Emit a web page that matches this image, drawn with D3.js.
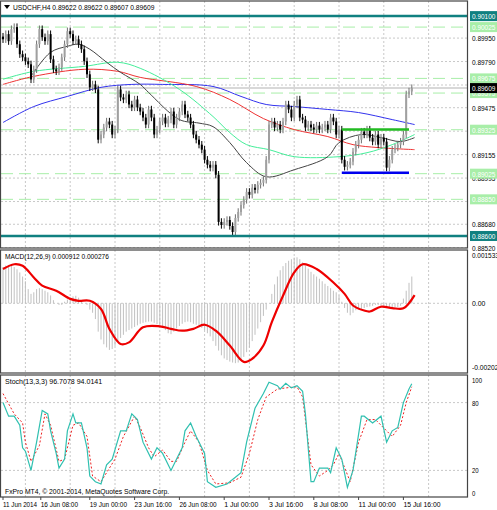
<!DOCTYPE html>
<html>
<head>
<meta charset="utf-8">
<script src="https://cdn.jsdelivr.net/npm/d3@7"></script>
<style>
  body { margin: 0; background: #fff; }
  text { font-family: "Liberation Sans", sans-serif; font-size: 8px; }
</style>
</head>
<body>
<svg id="chart" width="497" height="510"></svg>
<script>
// H4 closes, one per bar
const closes = [
  0.89942, 0.89977, 0.89929, 0.90011, 0.90025, 0.89908, 0.89840, 0.89819, 0.89792, 0.89771,
  0.89668, 0.89737, 0.89908, 0.90011, 0.89956, 0.89929, 0.89977, 0.89805, 0.89737, 0.89723,
  0.89751, 0.89819, 0.89908, 0.89997, 0.89977, 0.89929, 0.89942, 0.89908, 0.89874, 0.89792,
  0.89703, 0.89614, 0.89634, 0.89600, 0.89257, 0.89292, 0.89340, 0.89381, 0.89360, 0.89292,
  0.89326, 0.89600, 0.89545, 0.89531, 0.89566, 0.89497, 0.89477, 0.89531, 0.89477, 0.89449,
  0.89408, 0.89360, 0.89463, 0.89408, 0.89292, 0.89326, 0.89381, 0.89408, 0.89367, 0.89394,
  0.89449, 0.89360, 0.89408, 0.89449, 0.89497, 0.89429, 0.89408, 0.89360, 0.89292, 0.89257,
  0.89223, 0.89189, 0.89120, 0.89086, 0.89066, 0.89086, 0.89018, 0.88696, 0.88675, 0.88696,
  0.88709, 0.88668, 0.88627, 0.88723, 0.88764, 0.88812, 0.88846, 0.88901, 0.88881, 0.88929,
  0.88915, 0.88949, 0.88963, 0.88983, 0.89120, 0.89360, 0.89381, 0.89340, 0.89360, 0.89326,
  0.89381, 0.89497, 0.89463, 0.89408, 0.89497, 0.89531, 0.89408, 0.89394, 0.89340, 0.89360,
  0.89340, 0.89326, 0.89353, 0.89326, 0.89340, 0.89360, 0.89326, 0.89408, 0.89381, 0.89292,
  0.89326, 0.89120, 0.89072, 0.89086, 0.89107, 0.89175, 0.89223, 0.89257, 0.89312, 0.89292,
  0.89326, 0.89271, 0.89244, 0.89292, 0.89223, 0.89271, 0.89244, 0.89066, 0.89120, 0.89189,
  0.89203, 0.89223, 0.89244, 0.89292, 0.89566, 0.89586, 0.89609
];
const firstOpen = 0.89960;
const wick = 0.00025;

// moving averages, read at some bars: [bar, price]
const maBlack = [[10,0.89689],[17,0.89853],[23,0.89894],[27,0.89908],[31,0.89874],[37,0.89785],[42,0.89716],[49,0.89634],[52,0.89579],[63,0.89394],[70,0.89370],[75,0.89346],[81,0.89237],[87,0.89100],[94,0.89004],[104,0.89052],[116,0.89141],[120,0.89237],[128,0.89292],[135,0.89271],[142,0.89244],[147,0.89271]];
const maGreen = [[0,0.89669],[11,0.89723],[29,0.89757],[41,0.89785],[49,0.89744],[63,0.89600],[75,0.89415],[81,0.89305],[87,0.89223],[95,0.89189],[104,0.89141],[120,0.89141],[130,0.89168],[139,0.89223],[147,0.89292]];
const maRed = [[0,0.89634],[11,0.89689],[29,0.89737],[41,0.89723],[49,0.89682],[69,0.89620],[81,0.89531],[93,0.89401],[104,0.89326],[116,0.89278],[125,0.89223],[134,0.89203],[147,0.89189]];
const maBlue = [[0,0.89374],[11,0.89483],[23,0.89552],[35,0.89614],[46,0.89634],[57,0.89634],[75,0.89620],[85,0.89552],[94,0.89497],[104,0.89483],[116,0.89463],[127,0.89442],[139,0.89394],[147,0.89360]];

const levelsTeal = [0.90100, 0.88600];
const levelsGreen = [0.90025, 0.89675, 0.89575, 0.89325, 0.89025, 0.88850];
const currentPrice = 0.89609;
const boxTop = { from: 121, to: 145, price: 0.89326 };
const boxBottom = { from: 121, to: 145, price: 0.89031 };
const priceTicks = ["0.89950", "0.89790", "0.89630", "0.89475", "0.89315", "0.89155", "0.88995", "0.88835", "0.88680", "0.88520"];
const priceTickLabels = ["0.89950", "0.89790", "0.89475", "0.89155", "0.88995", "0.88680", "0.88520"];

const macdHist = [
  0.00115, 0.00120, 0.00122, 0.00120, 0.00115, 0.00108, 0.00098, 0.00085, 0.00070, 0.00045,
  0.00030, 0.00035, 0.00045, 0.00048, 0.00045, 0.00040, 0.00035, 0.00025, 0.00010, 0.00000,
  -0.00005, -0.00005, 0.00005, 0.00012, 0.00018, 0.00022, 0.00024, 0.00018, 0.00010, 0.00000,
  -0.00005, -0.00020, -0.00030, -0.00050, -0.00090, -0.00115, -0.00130, -0.00140, -0.00148, -0.00145,
  -0.00135, -0.00120, -0.00110, -0.00100, -0.00090, -0.00085, -0.00080, -0.00075, -0.00070, -0.00065,
  -0.00062, -0.00060, -0.00058, -0.00058, -0.00062, -0.00066, -0.00072, -0.00078, -0.00085, -0.00095,
  -0.00098, -0.00090, -0.00080, -0.00072, -0.00065, -0.00060, -0.00058, -0.00060, -0.00065, -0.00068,
  -0.00072, -0.00078, -0.00085, -0.00095, -0.00105, -0.00120, -0.00135, -0.00150, -0.00165, -0.00175,
  -0.00180, -0.00185, -0.00188, -0.00190, -0.00188, -0.00182, -0.00170, -0.00155, -0.00140, -0.00120,
  -0.00100, -0.00080, -0.00060, -0.00040, -0.00020, 0.00000, 0.00030, 0.00060, 0.00085, 0.00105,
  0.00118, 0.00128, 0.00135, 0.00140, 0.00145, 0.00146, 0.00140, 0.00130, 0.00120, 0.00110,
  0.00100, 0.00092, 0.00085, 0.00078, 0.00070, 0.00062, 0.00055, 0.00048, 0.00040, 0.00035,
  0.00025, 0.00005, -0.00015, -0.00030, -0.00038, -0.00030, -0.00022, -0.00020, -0.00018, -0.00015,
  -0.00012, -0.00010, -0.00008, -0.00005, -0.00005, -0.00008, -0.00010, -0.00012, -0.00012, -0.00013,
  -0.00013, -0.00012, -0.00008, 0.00015, 0.00040, 0.00065, 0.00085
];
const macdSignal = [[0,0.00109],[4,0.00124],[7,0.00119],[11,0.00082],[14,0.00056],[19,0.00040],[24,0.00014],[27,0.00008],[31,0.00008],[35,-0.00018],[38,-0.00081],[42,-0.00129],[45,-0.00124],[50,-0.00076],[56,-0.00073],[60,-0.00081],[64,-0.00087],[68,-0.00081],[72,-0.00068],[76,-0.00087],[81,-0.00134],[86,-0.00186],[89,-0.00176],[93,-0.00134],[96,-0.00060],[100,0.00024],[104,0.00098],[107,0.00124],[112,0.00109],[118,0.00066],[122,0.00030],[125,-0.00007],[129,-0.00023],[131,-0.00026],[135,-0.00011],[139,-0.00015],[143,-0.00016],[147,0.00026]];
const macdTicks = [["0.001533", 0.001533], ["0.00", 0], ["-0.002027", -0.002027]];

const stochMain = [[0,80],[2,68],[4,68],[6,60],[7,40],[8,37],[10,20],[12,45],[14,73],[16,70],[17,55],[19,35],[20,22],[22,30],[23,55],[25,70],[26,62],[28,62],[30,40],[31,15],[33,10],[35,8],[37,25],[39,30],[42,55],[44,55],[46,70],[48,65],[50,45],[53,30],[55,40],[57,35],[60,20],[62,30],[64,40],[65,55],[67,62],[69,50],[72,35],[73,10],[76,5],[80,8],[82,12],[85,18],[87,45],[90,75],[93,88],[95,98],[98,95],[99,92],[101,97],[103,93],[105,95],[107,90],[108,70],[110,10],[111,10],[113,22],[116,22],[117,18],[119,40],[121,30],[123,5],[125,20],[128,68],[129,68],[132,62],[135,68],[137,45],[139,55],[141,58],[143,80],[145,92],[146,96.7]];
const stochSignal = [[0,88],[4,70],[7,62],[8,45],[10,28],[13,42],[15,70],[17,60],[20,28],[22,30],[25,60],[27,62],[30,50],[32,15],[35,10],[37,18],[40,30],[43,50],[47,68],[49,58],[52,40],[54,32],[57,38],[60,28],[62,28],[65,45],[67,55],[70,45],[73,20],[76,8],[81,9],[85,14],[88,35],[91,65],[94,85],[98,92],[101,93],[105,94],[107,85],[110,25],[113,15],[116,20],[118,25],[120,35],[124,10],[127,45],[130,65],[133,65],[137,55],[139,50],[142,60],[144,80],[146,94]];
const stochTicks = [100, 80, 20, 0];

const dateLabels = ["11 Jun 2014", "16 Jun 08:00", "19 Jun 00:00", "23 Jun 16:00", "26 Jun 08:00", "1 Jul 00:00", "3 Jul 16:00", "8 Jul 08:00", "11 Jul 00:00", "15 Jul 16:00"];
const dateIdx = [0, 13.5, 31, 47, 63, 79, 95, 111, 127, 143];
const gridIdx = [8, 24, 40, 56, 72, 88, 104, 120, 136, 152];

const svg = d3.select("#chart");
const W = 467, axisX = 470;
const CW = 3.35; // squeezed char width, like the small Tahoma of MT4
const x = d3.scaleLinear().domain([0, 1]).range([3, 5.8]);

// text with squeezed width
function label(sel, cw) {
  sel.attr("textLength", function() { return this.textContent.length * (cw || CW); })
     .attr("lengthAdjust", "spacingAndGlyphs");
  return sel;
}

const panes = [
  { top: 1, bottom: 248 },
  { top: 250, bottom: 373 },
  { top: 375, bottom: 497 }
];
const yP = d3.scaleLinear().domain([0.88518, 0.90203]).range([248, 1]);
const yM = d3.scaleLinear().domain([-0.00218, 0.00166]).range([372, 251]);
const yS = d3.scaleLinear().domain([0, 100]).range([493, 380]);

panes.forEach((p, i) => {
  svg.append("clipPath").attr("id", "clip" + i)
    .append("rect").attr("x", 1).attr("y", p.top).attr("width", W - 1).attr("height", p.bottom - p.top);
});

// vertical grid
panes.forEach((p, i) => {
  svg.append("g").attr("clip-path", `url(#clip${i})`).selectAll("line").data(gridIdx).join("line")
    .attr("x1", d => x(d)).attr("x2", d => x(d)).attr("y1", p.top).attr("y2", p.bottom)
    .attr("stroke", "#c8c8c8").attr("stroke-dasharray", "2,2");
});

// ----- main pane
const gP = svg.append("g").attr("clip-path", "url(#clip0)");
gP.selectAll("line.hg").data(priceTicks).join("line").attr("class", "hg")
  .attr("x1", 1).attr("x2", W).attr("y1", d => yP(+d)).attr("y2", d => yP(+d))
  .attr("stroke", "#c8c8c8").attr("stroke-dasharray", "2,2");
gP.selectAll("line.gl").data(levelsGreen).join("line").attr("class", "gl")
  .attr("x1", 1).attr("x2", W).attr("y1", d => yP(d)).attr("y2", d => yP(d))
  .attr("stroke", "#a8eea8").attr("stroke-width", 1).attr("stroke-dasharray", "12,6");
gP.append("line").attr("x1", 1).attr("x2", W).attr("y1", yP(currentPrice)).attr("y2", yP(currentPrice))
  .attr("stroke", "#d8d8d8").attr("stroke-width", 2);

const maLine = d3.line().x(d => x(d[0])).y(d => yP(d[1])).curve(d3.curveCatmullRom);
[[maBlue, "#3333ee"], [maRed, "#ee3333"], [maGreen, "#44ee99"], [maBlack, "#444"]].forEach(([data, c]) => {
  gP.append("path").datum(data).attr("d", maLine).attr("fill", "none").attr("stroke", c).attr("stroke-width", 1);
});

const candles = closes.map((c, i) => {
  const o = i === 0 ? firstOpen : closes[i - 1];
  return { i, o, c, h: Math.max(o, c) + wick, l: Math.min(o, c) - wick };
});
gP.selectAll("line.wk").data(candles).join("line").attr("class", "wk")
  .attr("x1", d => x(d.i)).attr("x2", d => x(d.i)).attr("y1", d => yP(d.h)).attr("y2", d => yP(d.l))
  .attr("stroke", d => d.c >= d.o ? "#707070" : "#000");
gP.selectAll("rect.bd").data(candles).join("rect").attr("class", "bd")
  .attr("x", d => x(d.i) - 1).attr("width", 2)
  .attr("y", d => yP(Math.max(d.o, d.c))).attr("height", d => Math.max(1, Math.abs(yP(d.o) - yP(d.c))))
  .attr("fill", d => d.c >= d.o ? "#a0a0a0" : "#000");

gP.selectAll("line.tl").data(levelsTeal).join("line").attr("class", "tl")
  .attr("x1", 1).attr("x2", W).attr("y1", d => yP(d)).attr("y2", d => yP(d))
  .attr("stroke", "#108080").attr("stroke-width", 2.5);
gP.append("line").attr("x1", x(boxTop.from)).attr("x2", x(boxTop.to))
  .attr("y1", yP(boxTop.price)).attr("y2", yP(boxTop.price)).attr("stroke", "#22bb22").attr("stroke-width", 2.5);
gP.append("line").attr("x1", x(boxBottom.from)).attr("x2", x(boxBottom.to))
  .attr("y1", yP(boxBottom.price)).attr("y2", yP(boxBottom.price)).attr("stroke", "#0000ee").attr("stroke-width", 2.5);

// right axis of main
label(svg.selectAll("text.pt").data(priceTickLabels).join("text").attr("class", "pt")
  .attr("x", axisX + 2).attr("y", d => yP(+d) + 3).text(d => d));
function tag(v, bg, fg, txt) {
  svg.append("rect").attr("x", axisX).attr("y", yP(v) - 5).attr("width", 27).attr("height", 10).attr("fill", bg);
  label(svg.append("text").attr("x", axisX + 2).attr("y", yP(v) + 3).attr("fill", fg).text(txt));
}
levelsGreen.forEach(v => tag(v, "#a8eea8", "#fff", v.toFixed(5)));
levelsTeal.forEach(v => tag(v, "#108080", "#fff", v.toFixed(5)));
tag(currentPrice, "#000", "#fff", currentPrice.toFixed(5));

svg.append("path").attr("d", "M4,5 L10,5 L7,9 Z").attr("fill", "#000");
label(svg.append("text").attr("x", 13).attr("y", 10).text("USDCHF,H4 0.89622 0.89622 0.89607 0.89609"), 3.45);

// ----- MACD pane
const gM = svg.append("g").attr("clip-path", "url(#clip1)");
gM.append("line").attr("x1", 1).attr("x2", W).attr("y1", yM(0)).attr("y2", yM(0))
  .attr("stroke", "#c8c8c8").attr("stroke-dasharray", "2,2");
gM.selectAll("line.h").data(macdHist).join("line").attr("class", "h")
  .attr("x1", (d, i) => x(i)).attr("x2", (d, i) => x(i)).attr("y1", yM(0)).attr("y2", d => yM(d))
  .attr("stroke", "#c0c0c0");
gM.append("path").datum(macdSignal)
  .attr("d", d3.line().x(d => x(d[0])).y(d => yM(d[1])).curve(d3.curveCatmullRom))
  .attr("fill", "none").attr("stroke", "#ee0000").attr("stroke-width", 2.2);
label(svg.selectAll("text.mt").data(macdTicks).join("text").attr("class", "mt")
  .attr("x", axisX + 2).attr("y", d => yM(d[1]) + 3).text(d => d[0]));
label(svg.append("text").attr("x", 5).attr("y", 259).text("MACD(12,26,9) 0.000912 0.000276"));

// ----- Stoch pane
const gS = svg.append("g").attr("clip-path", "url(#clip2)");
gS.selectAll("line.sg").data([80, 20]).join("line").attr("class", "sg")
  .attr("x1", 1).attr("x2", W).attr("y1", d => yS(d)).attr("y2", d => yS(d))
  .attr("stroke", "#c8c8c8").attr("stroke-dasharray", "2,2");
const sLine = d3.line().x(d => x(d[0])).y(d => yS(d[1]));
gS.append("path").datum(stochSignal).attr("d", sLine).attr("fill", "none")
  .attr("stroke", "#ee2222").attr("stroke-dasharray", "2,2");
gS.append("path").datum(stochMain).attr("d", sLine).attr("fill", "none")
  .attr("stroke", "#30c0b0").attr("stroke-width", 1.2);
label(svg.selectAll("text.st").data(stochTicks).join("text").attr("class", "st")
  .attr("x", axisX + 2).attr("y", d => yS(d) + 3).text(d => d));
label(svg.append("text").attr("x", 5).attr("y", 384).text("Stoch(13,3,3) 96.7078 94.0141"));
label(svg.append("text").attr("x", 5).attr("y", 494).text("FxPro MT4, © 2001-2014, MetaQuotes Software Corp."));

// frames
panes.forEach(p => {
  svg.append("rect").attr("x", 0.5).attr("y", p.top).attr("width", W).attr("height", p.bottom - p.top)
    .attr("fill", "none").attr("stroke", "#444").attr("stroke-width", 1.2);
});

// date axis
svg.selectAll("line.dt").data(dateIdx).join("line").attr("class", "dt")
  .attr("x1", d => x(d)).attr("x2", d => x(d)).attr("y1", 497).attr("y2", 500).attr("stroke", "#444");
label(svg.selectAll("text.dl").data(dateLabels).join("text").attr("class", "dl")
  .attr("x", (d, i) => x(dateIdx[i])).attr("y", 507).text(d => d), 3.1);
</script>
</body>
</html>
